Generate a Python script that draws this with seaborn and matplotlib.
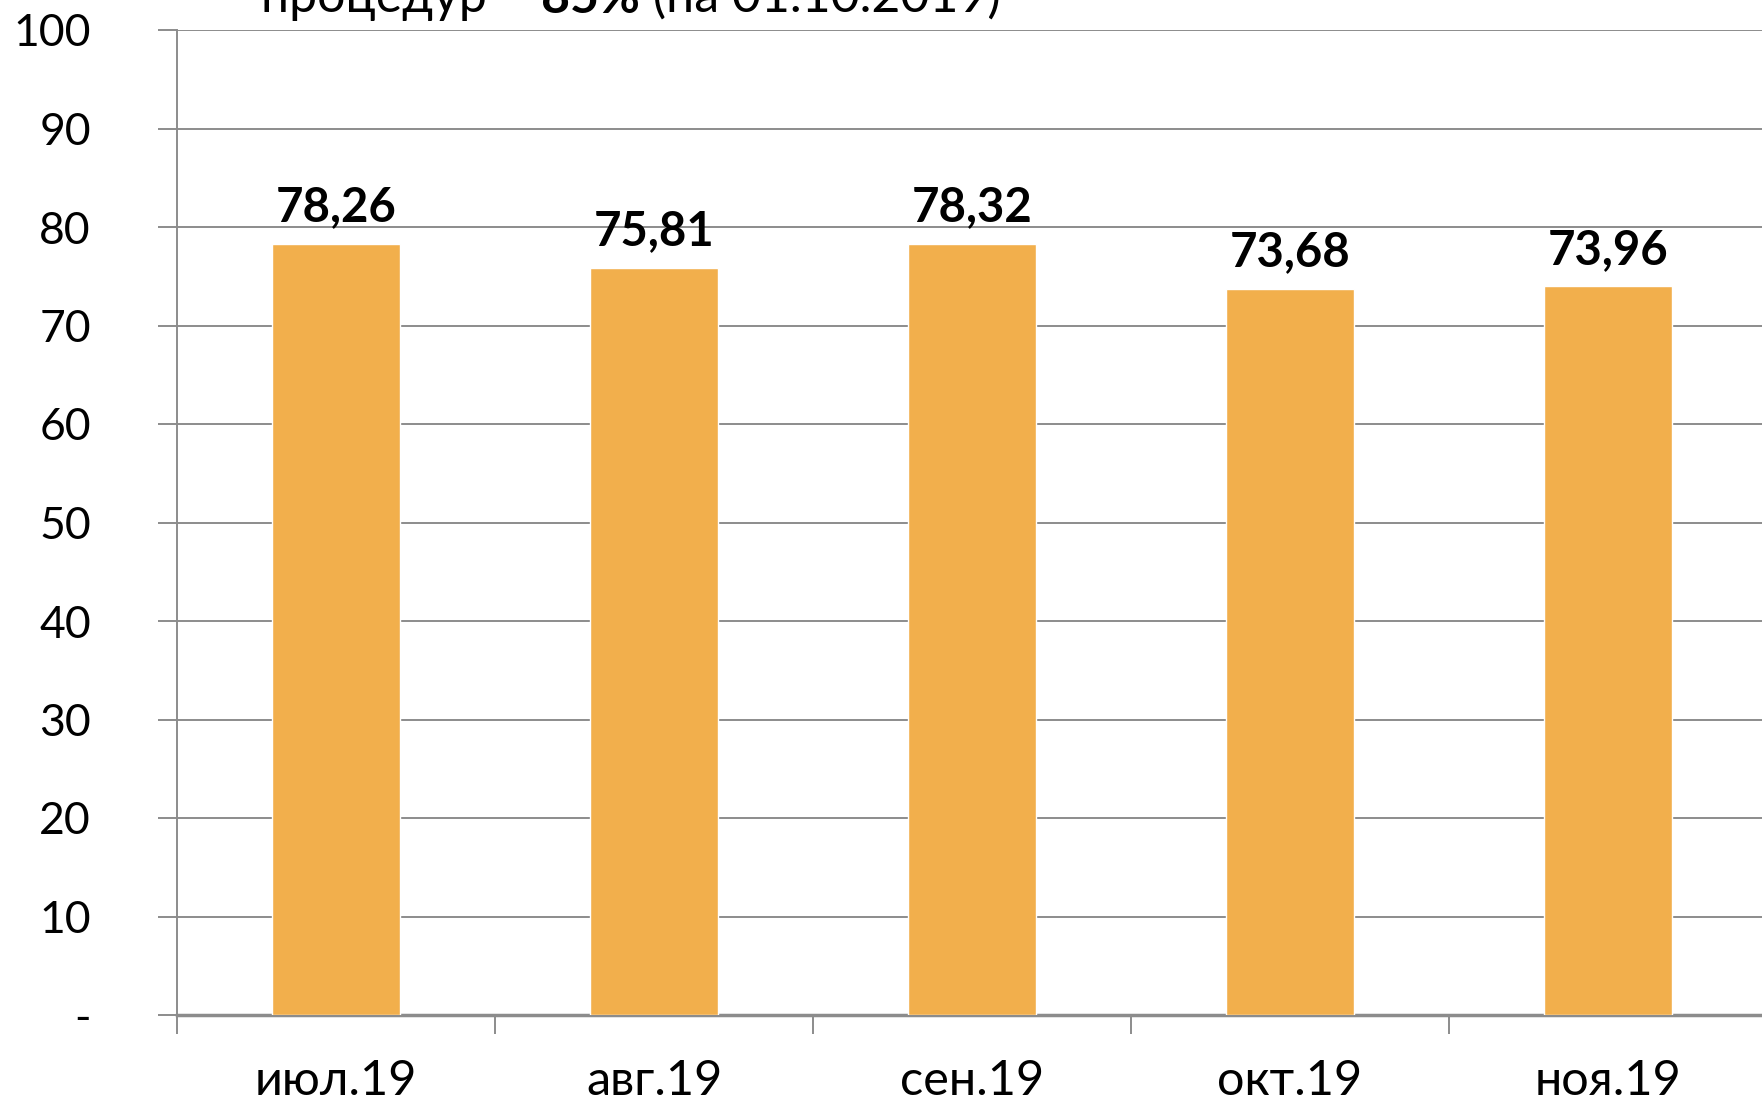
import matplotlib.pyplot as plt
import seaborn as sns
import pandas as pd

# data
months = ['июл.19', 'авг.19', 'сен.19', 'окт.19', 'ноя.19']
values = [78.26, 75.81, 78.32, 73.68, 73.96]
y_ticks = [0, 10, 20, 30, 40, 50, 60, 70, 80, 90, 100]
y_tick_labels = ['-', '10', '20', '30', '40', '50', '60', '70', '80', '90', '100']

BAR_COLOR = '#F2AF4C'
GRID_COLOR = '#8C8C8C'

sns.set_style('white')
plt.rcParams['font.family'] = ['Lato', 'DejaVu Sans']
plt.rcParams['text.color'] = 'black'
plt.rcParams['xtick.labelcolor'] = 'black'
plt.rcParams['ytick.labelcolor'] = 'black'

df = pd.DataFrame({'month': months, 'value': values})

fig = plt.figure(figsize=(17.62, 11.0), dpi=100)
ax = fig.add_axes([177 / 1762, 1 - 1015 / 1100, 1590 / 1762, (1015 - 30) / 1100])

sns.barplot(data=df, x='month', y='value', color=BAR_COLOR, width=0.4,
            saturation=1, ax=ax, zorder=3)

ax.set_ylim(0, 100)
ax.set_xlim(-0.5, len(months) - 0.5)
ax.set_yticks(y_ticks)
ax.set_yticklabels(y_tick_labels, fontsize=32)
ax.set_xlabel('')
ax.set_ylabel('')

# gridlines
ax.yaxis.grid(True, color=GRID_COLOR, linewidth=1.4, zorder=0)
ax.set_axisbelow(True)

# spines
for s in ['top', 'right']:
    ax.spines[s].set_visible(False)
ax.spines['left'].set_color(GRID_COLOR)
ax.spines['left'].set_linewidth(1.4)
ax.spines['bottom'].set_color(GRID_COLOR)
ax.spines['bottom'].set_linewidth(2.5)

ax.tick_params(axis='y', length=14, width=1.4, color=GRID_COLOR, pad=48, left=True)

# x ticks at category boundaries, labels centred
ax.set_xticks([i - 0.5 for i in range(len(months))], minor=False)
ax.set_xticklabels([''] * len(months))
ax.set_xticks(range(len(months)), minor=True)
ax.set_xticklabels(months, minor=True, fontsize=35)
ax.tick_params(axis='x', which='major', length=14, width=1.4, color=GRID_COLOR, bottom=True)
ax.tick_params(axis='x', which='minor', length=0, pad=32)

# value labels
for i, v in enumerate(values):
    ax.text(i, v + 1.5, f'{v:.2f}'.replace('.', ','), ha='center', va='bottom',
            fontsize=34, fontweight='bold', zorder=4)

# heading, clipped by the top edge as in the source
t1 = fig.text(232 / 1568, 1 - 12 / 1100, 'процедур – ',
              fontsize=36, va='baseline', ha='left')
a2 = ax.annotate('85%', xy=(1, 0), xycoords=t1, va='bottom', ha='left',
                 fontsize=36, fontweight='bold', annotation_clip=False)
ax.annotate(' (на 01.10.2019)', xy=(1, 0), xycoords=a2, va='bottom', ha='left',
            fontsize=36, annotation_clip=False)

fig.savefig('out.png', dpi=100)
